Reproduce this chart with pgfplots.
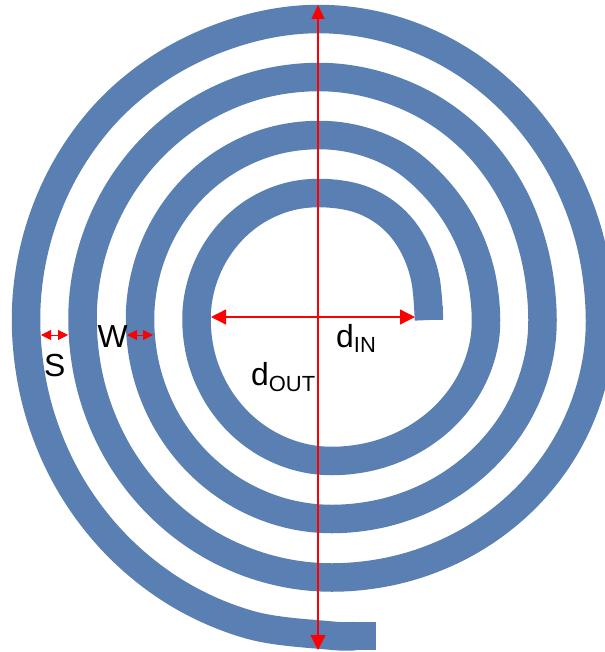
\documentclass[border=0pt]{standalone}
\usepackage{fontspec}
\setmainfont{Liberation Sans}
\usepackage{pgfplots}
\pgfplotsset{compat=1.18}
\usetikzlibrary{arrows.meta}
\definecolor{coil}{HTML}{597FB3}
\newcommand{\lbl}[3]{\node[anchor=base west,inner sep=0pt,text=black] at (axis cs:#1,#2) {#3};}
\begin{document}
\begin{tikzpicture}
\begin{axis}[
  scale only axis, width=605bp, height=652bp,
  xmin=0, xmax=605, ymin=0, ymax=652, y dir=reverse,
  axis lines=none, clip=true,
]
\path[use as bounding box] (axis cs:0,0) rectangle (axis cs:605,652);
\addplot[coil, line width=28.5bp, line cap=butt, smooth, tension=0.6, no markers] coordinates {
(429,320)(425.7,280.9)(415.9,250.5)(400.1,226)(378.7,208)(352.2,196.8)(318,193)
(286.6,197.3)(257.2,210)(232.1,230.2)(212.8,256.5)(200.6,287.1)(196.5,320)
(201.1,356.5)(214.7,390.5)(236.2,419.7)(264.2,442.1)(296.9,456.2)(332,461)
(371.9,456.2)(409,442.1)(440.9,419.7)(465.4,390.5)(480.8,356.5)(486,320)
(480.3,272.1)(463.5,227.5)(436.8,189.2)(402,158.5)(361.5,140.8)(318,135)
(271.9,141.3)(229,159.8)(192.1,189.2)(163.9,227.5)(146.1,272.1)(140,320)
(146.5,371.5)(165.7,419.5)(196.2,460.7)(236,492.3)(282.3,512.2)(332,519)
(386.5,512.2)(437.3,492.3)(480.8,460.7)(514.3,419.5)(535.3,371.5)(542.5,320)
(535.3,257.1)(514,197.5)(478.5,146.5)(431.5,108.5)(376.1,85)(318,77)
(257,85.3)(200.2,109.6)(151.5,148.2)(114.1,198.5)(90.5,257.1)(82.5,320)
(91,386.6)(115.9,448.8)(155.6,502.1)(207.2,543)(267.4,568.7)(332,577.5)
(401.4,568.7)(466,543)(521.5,502.1)(564.1,448.8)(590.9,386.6)(600,320)
(590.4,242.1)(562.2,169.5)(517.4,107.2)(459,59.3)(391,29.3)(318,19)
(245,29.6)(173,59.8)(111.5,107.2)(65.1,169.5)(36,242.1)(26,320)
(36.4,401.8)(66.7,478)(115,543.4)(178,593.7)(251.3,625.2)(330,635.5)
(355,636)
};
\addplot[coil, line width=28.5bp, line cap=butt, no markers] coordinates {(429,320)(429,306)};
\addplot[coil, line width=28.5bp, line cap=butt, no markers] coordinates {(340,636)(376,636)};
\addplot[red, line width=1.3bp, no markers, {Triangle[length=14bp,width=13bp]}-{Triangle[length=15bp,width=15bp]}] coordinates {(318,5)(318,650)};
\addplot[red, line width=1.3bp, no markers, {Triangle[length=15bp,width=15bp]}-{Triangle[length=15bp,width=15bp]}] coordinates {(211,317)(415,317)};
\addplot[red, line width=0.8bp, no markers, {Triangle[length=10bp,width=10bp]}-{Triangle[length=10bp,width=10bp]}] coordinates {(41,335)(68,335)};
\addplot[red, line width=0.8bp, no markers, {Triangle[length=10bp,width=10bp]}-{Triangle[length=10bp,width=10bp]}] coordinates {(127,335)(153,335)};
\lbl{44}{376}{\fontsize{32}{34}\selectfont S}
\lbl{97.5}{347}{\fontsize{32}{34}\selectfont W}
\lbl{336}{347}{\fontsize{32}{34}\selectfont d\raisebox{-5bp}{\fontsize{22}{24}\selectfont IN}}
\lbl{251}{385}{\fontsize{32}{34}\selectfont d\raisebox{-6bp}{\fontsize{22}{24}\selectfont OUT}}
\end{axis}
\end{tikzpicture}
\end{document}
